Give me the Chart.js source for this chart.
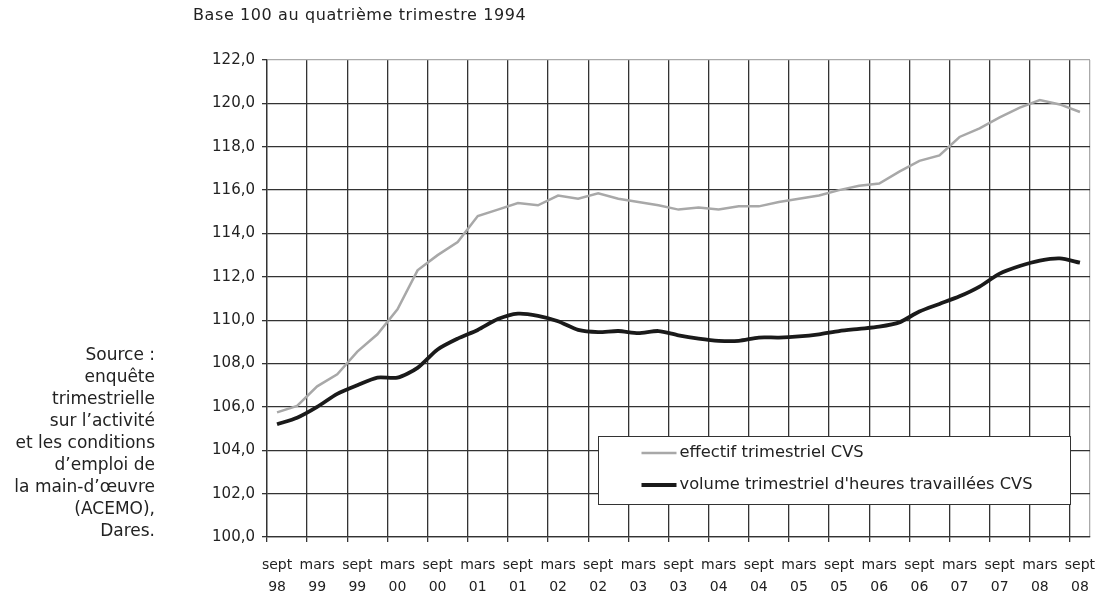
<!DOCTYPE html>
<html>
<head>
<meta charset="utf-8">
<script src="https://cdn.jsdelivr.net/npm/chart.js@4.4.1/dist/chart.umd.min.js"></script>
<style>
  html, body { margin: 0; padding: 0; background: #fff; }
  #wrap { position: relative; width: 1098px; height: 596px; }
  #titre { position: absolute; left: 193px; top: 5px; font: 16px "DejaVu Sans", sans-serif; color: #222; letter-spacing: 0.6px; }
  #source { position: absolute; right: 943px; top: 343px; font: 17px "DejaVu Sans", sans-serif; color: #222;
            text-align: right; line-height: 22px; white-space: nowrap; }
</style>
</head>
<body>
<div id="wrap">
  <canvas id="graph" width="1098" height="596"></canvas>
  <div id="titre">Base 100 au quatrième trimestre 1994</div>
  <div id="source">Source :<br>enquête<br>trimestrielle<br>sur l’activité<br>et les conditions<br>d’emploi de<br>la main-d’œuvre<br>(ACEMO),<br>Dares.</div>
</div>
<script>
// trimestres de sept 98 a sept 08
const trimestres = [
  'sept 98','déc 98','mars 99','juin 99','sept 99','déc 99','mars 00','juin 00',
  'sept 00','déc 00','mars 01','juin 01','sept 01','déc 01','mars 02','juin 02',
  'sept 02','déc 02','mars 03','juin 03','sept 03','déc 03','mars 04','juin 04',
  'sept 04','déc 04','mars 05','juin 05','sept 05','déc 05','mars 06','juin 06',
  'sept 06','déc 06','mars 07','juin 07','sept 07','déc 07','mars 08','juin 08',
  'sept 08'
];
const effectif = [
  105.75, 106.05, 106.95, 107.5, 108.55, 109.35, 110.5, 112.3,
  113.0, 113.6, 114.8, 115.1, 115.4, 115.3, 115.75, 115.6,
  115.85, 115.6, 115.45, 115.3, 115.1, 115.2, 115.1, 115.25,
  115.25, 115.45, 115.6, 115.75, 116.0, 116.2, 116.3, 116.85,
  117.35, 117.6, 118.45, 118.85, 119.35, 119.8, 120.15, 119.95,
  119.6
];
const volume = [
  105.2, 105.5, 106.0, 106.6, 107.0, 107.35, 107.35, 107.8,
  108.65, 109.15, 109.55, 110.05, 110.3, 110.2, 109.95, 109.55,
  109.45, 109.5, 109.4, 109.5, 109.3, 109.15, 109.05, 109.05,
  109.2, 109.2, 109.25, 109.35, 109.5, 109.6, 109.7, 109.9,
  110.4, 110.75, 111.1, 111.55, 112.15, 112.5, 112.75, 112.85,
  112.65
];
const noms = ['effectif trimestriel CVS', "volume trimestriel d'heures travaillées CVS"];
const yTicks = [100, 102, 104, 106, 108, 110, 112, 114, 116, 118, 120, 122];

const legendeBox = {
  id: 'legendeBox',
  afterDatasetsDraw(chart) {
    const ctx = chart.ctx;
    const x = 598.5, y = 436.5, w = 472, h = 68;
    ctx.save();
    ctx.fillStyle = '#fff';
    ctx.fillRect(x, y, w, h);
    ctx.strokeStyle = '#333';
    ctx.lineWidth = 1;
    ctx.strokeRect(x, y, w, h);
    ctx.font = '16.3px "DejaVu Sans", sans-serif';
    ctx.textBaseline = 'middle';
    chart.data.datasets.forEach((ds, i) => {
      const ly = y + 16.5 + i * 32;
      ctx.strokeStyle = ds.borderColor;
      ctx.lineWidth = ds.borderWidth;
      ctx.beginPath();
      ctx.moveTo(x + 43, ly);
      ctx.lineTo(x + 78, ly);
      ctx.stroke();
      ctx.fillStyle = '#222';
      ctx.fillText(ds.label, x + 81, ly);
    });
    ctx.restore();
  }
};

new Chart(document.getElementById('graph'), {
  type: 'line',
  data: {
    labels: trimestres,
    datasets: [
      { label: noms[0], data: effectif, borderColor: '#a8a8a8', borderWidth: 2.5,
        pointRadius: 0, tension: 0, fill: false },
      { label: noms[1], data: volume, borderColor: '#1a1a1a', borderWidth: 3.8,
        pointRadius: 0, tension: 0.25, fill: false }
    ]
  },
  options: {
    responsive: false,
    animation: false,
    layout: { padding: { left: 0, top: 60, right: 8, bottom: 0 } },
    plugins: { legend: { display: false }, tooltip: { enabled: false } },
    scales: {
      x: {
        type: 'category',
        offset: true,
        afterFit(scale) {
          scale.height = 59;
          scale.paddingLeft = 0;
          scale.paddingRight = 0;
        },
        grid: {
          offset: true,
          drawTicks: true,
          tickLength: 5,
          lineWidth: 1.3,
          color(c) {
            if (c.type !== 'tick') return '#aaa';
            return c.index % 2 === 0 ? '#333' : 'rgba(0,0,0,0)';
          },
          tickColor(c) {
            if (c.type !== 'tick') return 'rgba(0,0,0,0)';
            return c.index % 2 === 0 ? '#333' : 'rgba(0,0,0,0)';
          }
        },
        border: { display: true, color: '#333', width: 1.3 },
        ticks: {
          autoSkip: false,
          maxRotation: 0,
          padding: 12,
          color: '#222',
          font: { family: '"DejaVu Sans", sans-serif', size: 14, lineHeight: 1.6 },
          callback(v, i) {
            return i % 2 === 0 ? trimestres[i].split(' ') : '';
          }
        }
      },
      y: {
        min: 100,
        max: 122,
        afterFit(scale) { scale.width = 267; },
        afterBuildTicks(scale) { scale.ticks = yTicks.map(v => ({ value: v })); },
        grid: {
          tickLength: 5,
          lineWidth: 1.3,
          color(c) { return c.tick && c.tick.value === 122 ? '#aaa' : '#333'; },
          tickColor: '#333'
        },
        border: { display: true, color: '#333', width: 1.3 },
        ticks: {
          padding: 7,
          color: '#222',
          font: { family: '"DejaVu Sans", sans-serif', size: 15 },
          callback(v) { return v.toFixed(1).replace('.', ','); }
        }
      }
    }
  },
  plugins: [legendeBox]
});
</script>
</body>
</html>
